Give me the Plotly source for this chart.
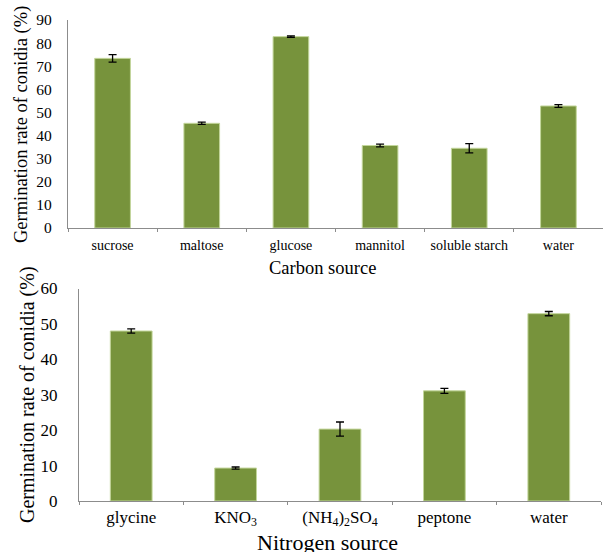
import plotly.graph_objects as go

carbon_cats = ["sucrose", "maltose", "glucose", "mannitol", "soluble starch", "water"]
carbon_vals = [73.4, 45.3, 82.8, 35.7, 34.5, 52.8]
carbon_err = [1.6, 0.5, 0.3, 0.6, 2.0, 0.6]

nitrogen_cats = ["glycine", "KNO<sub>3</sub>", "(NH<sub>4</sub>)<sub>2</sub>SO<sub>4</sub>", "peptone", "water"]
nitrogen_vals = [48.0, 9.3, 20.3, 31.1, 52.9]
nitrogen_err = [0.6, 0.3, 2.0, 0.7, 0.6]

W, H = 603, 552
bar_color = "#77933C"
font_family = "Liberation Serif, serif"

fig = go.Figure()
fig.add_trace(go.Bar(
    x=carbon_cats, y=carbon_vals, xaxis="x", yaxis="y",
    marker=dict(color=bar_color, line=dict(color="#c3d69b", width=1)),
    error_y=dict(type="data", array=carbon_err, color="black", thickness=1.3, width=4),
    width=0.4, showlegend=False,
))
fig.add_trace(go.Bar(
    x=nitrogen_cats, y=nitrogen_vals, xaxis="x2", yaxis="y2",
    marker=dict(color=bar_color, line=dict(color="#c3d69b", width=1)),
    error_y=dict(type="data", array=nitrogen_err, color="black", thickness=1.3, width=4),
    width=0.4, showlegend=False,
))

axis_common = dict(showline=True, linecolor="#8c8c8c", linewidth=1.2, showgrid=False, zeroline=False)

fig.update_layout(
    width=W, height=H,
    margin=dict(l=0, r=0, t=0, b=0, autoexpand=False),
    paper_bgcolor="white", plot_bgcolor="white",
    font=dict(family=font_family, color="black"),
    xaxis=dict(domain=[68 / W, 603 / W], anchor="y", type="category", tickangle=0,
               tickson="boundaries", ticks="outside", ticklen=3, tickcolor="#8c8c8c",
               tickfont=dict(size=14), ticklabelstandoff=4, **axis_common),
    yaxis=dict(domain=[1 - 228 / H, 1 - 20 / H], anchor="x", range=[0, 90], dtick=10,
               ticks="", tickfont=dict(size=15.5), ticklabelstandoff=12, **axis_common),
    xaxis2=dict(domain=[79 / W, 601 / W], anchor="y2", type="category", tickangle=0,
                tickson="boundaries", ticks="outside", ticklen=3, tickcolor="#8c8c8c",
                tickfont=dict(size=17), **axis_common),
    yaxis2=dict(domain=[1 - 501 / H, 1 - 288.5 / H], anchor="x2", range=[0, 60], dtick=10,
                ticks="", tickfont=dict(size=17), ticklabelstandoff=17, **axis_common),
    annotations=[
        dict(text="Germination rate of conidia (%)", x=21 / W, y=1 - 125 / H, xref="paper", yref="paper",
             xanchor="center", yanchor="middle",
             textangle=-90, showarrow=False, font=dict(size=18.5)),
        dict(text="Carbon source", x=322 / W, y=1 - 268 / H, xref="paper", yref="paper",
             xanchor="center", yanchor="middle",
             showarrow=False, font=dict(size=18.5)),
        dict(text="Germination rate of conidia (%)", x=27 / W, y=1 - 395 / H, xref="paper", yref="paper",
             xanchor="center", yanchor="middle",
             textangle=-90, showarrow=False, font=dict(size=20)),
        dict(text="Nitrogen source", x=327 / W, y=1 - 542 / H, xref="paper", yref="paper",
             xanchor="center", yanchor="middle",
             showarrow=False, font=dict(size=22)),
    ],
)

fig.write_html(
    "out.html",
    config={"displayModeBar": False},
    post_script="document.body.style.margin='0';document.body.style.padding='0';document.body.style.overflow='hidden';",
)
